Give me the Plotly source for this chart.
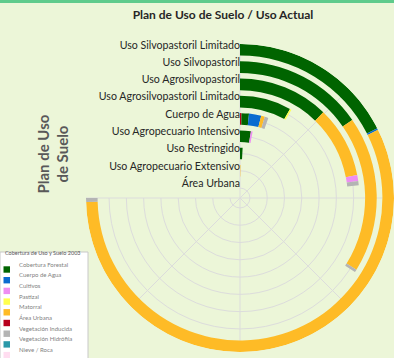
import plotly.graph_objects as go

# rings, outer -> inner
categories = [
    "Uso Silvopastoril Limitado", "Uso Silvopastoril", "Uso Agrosilvopastoril",
    "Uso Agrosilvopastoril Limitado", "Cuerpo de Agua", "Uso Agropecuario Intensivo",
    "Uso Restringido", "Uso Agropecuario Extensivo", "Área Urbana",
]

area_urbana = [0, 0, 0, 0, 1.0, 0, 0, 0, 0]
forestal    = [63.1, 55.2, 44.2, 29.3, 5.1, 9.3, 3.0, 0, 0]
agua        = [0.6, 0, 0, 0, 8.4, 0, 0, 0, 0]
pastizal    = [0, 0, 0, 0.9, 0, 0, 0, 0, 0]
matorral    = [204.8, 66.4, 34.7, 0, 2.5, 0, 0, 0.8, 0]
cultivos    = [0, 0, 2.9, 0, 0, 1.5, 0, 0, 0]
inducida    = [1.5, 1.2, 2.1, 0, 2.5, 0, 0, 0, 0]
hidrofila   = [0, 0, 0, 0, 0, 0, 0, 0, 0]
nieve       = [0, 0, 0, 0, 0, 0, 0, 0, 0]

legend_names = ["Cobertura Forestal", "Cuerpo de Agua", "Cultivos", "Pastizal", "Matorral",
                "Área Urbana", "Vegetación Inducida", "Vegetación Hidrófila", "Nieve / Roca"]

_GREEN = "#006400"
_BLUE  = "#0A6BD0"
_PINK  = "#EE8EF2"
_YELL  = "#FFFF4D"
_ORNG  = "#FEBB26"
_RED   = "#B8001E"
_GREY  = "#B4B4B4"
_TEAL  = "#2A98A8"
_LPNK  = "#FFDDF0"
BG     = "#ECF6D8"
TXT    = "#262626"

# stacking order along each arc
stack = [
    ("Área Urbana", area_urbana, _RED),
    ("Cobertura Forestal", forestal, _GREEN),
    ("Cuerpo de Agua", agua, _BLUE),
    ("Pastizal", pastizal, _YELL),
    ("Matorral", matorral, _ORNG),
    ("Cultivos", cultivos, _PINK),
    ("Vegetación Inducida", inducida, _GREY),
    ("Vegetación Hidrófila", hidrofila, _TEAL),
    ("Nieve / Roca", nieve, _LPNK),
]
legend_colors = [_GREEN, _BLUE, _PINK, _YELL, _ORNG, _RED, _GREY, _TEAL, _LPNK]

n = len(categories)
totals = [sum(s[1][i] for s in stack) for i in range(n)]
deg = 270.0 / max(totals)             # largest ring spans 3/4 of the circle
centers = [0.575 + (n - 1 - i) for i in range(n)]   # ring centre radius
thick = 0.672

fig = go.Figure()
start = [0.0] * n
for name, vals, color in stack:
    th, wd, rr, bb = [], [], [], []
    for i, v in enumerate(vals):
        if v <= 0:
            continue
        th.append((start[i] + v / 2) * deg)
        wd.append(v * deg)
        rr.append(thick)
        bb.append(centers[i] - thick / 2)
        start[i] += v
    if th:
        fig.add_trace(go.Barpolar(theta=th, width=wd, r=rr, base=bb, name=name,
                                  marker=dict(color=color, line=dict(width=0)),
                                  showlegend=False, hoverinfo="name"))

fig.add_trace(go.Scatterpolar(
    r=[c + 0.22 for c in centers], theta=[0] * n, mode="text", text=categories,
    textposition="middle left", textfont=dict(size=10.6, color=TXT, family="Lato"),
    cliponaxis=False, showlegend=False, hoverinfo="skip"))

W, H = 394, 358
R, CX, CY = 154, 240, 198
fig.update_layout(
    width=W, height=H, margin=dict(l=0, r=0, t=0, b=0),
    paper_bgcolor=BG, plot_bgcolor=BG, showlegend=False,
    font=dict(family="Lato", color=TXT),
    title=dict(text="<b>Plan de Uso de Suelo / Uso Actual</b>", x=223 / W, xanchor="center",
               y=1 - 15 / H, yanchor="middle", font=dict(size=12, color=TXT)),
    polar=dict(
        domain=dict(x=[(CX - R) / W, 1], y=[(H - CY - R) / H, (H - CY + R) / H]),
        sector=[-180, 90], bgcolor="rgba(0,0,0,0)", barmode="overlay",
        angularaxis=dict(rotation=90, direction="clockwise", tickmode="linear", dtick=45,
                         showticklabels=False, ticks="", showline=False,
                         gridcolor="#DCDCDC", gridwidth=1),
        radialaxis=dict(range=[0, 8.91], tickvals=centers, showticklabels=False, ticks="",
                        showline=False, gridcolor="#DCDCDC", gridwidth=1),
    ),
)

# top accent strip
fig.add_shape(type="rect", xref="paper", yref="paper", x0=0, x1=1, y0=1 - 3 / H, y1=1,
              fillcolor="#5FCB8C", line_width=0)

# axis title on the left
fig.add_annotation(text="<b>Plan de Uso<br>de Suelo</b>", textangle=-90, xref="paper", yref="paper",
                   x=32 / W, y=1 - 113 / H, showarrow=False,
                   font=dict(size=15, color="#595959"))

# legend box (drawn by hand, bottom-left, partly cut by the frame)
fig.add_shape(type="rect", xref="paper", yref="paper", x0=0, x1=88 / W, y0=-0.05, y1=1 - 252 / H,
              fillcolor="white", line=dict(color="#C8C8C8", width=1))
fig.add_annotation(text="Cobertura de Uso y Suelo 2003", xref="paper", yref="paper",
                   x=43 / W, y=1 - 258 / H, xanchor="center", showarrow=False,
                   font=dict(size=5.5, color="#595959"))
for k, (lab, col) in enumerate(zip(legend_names, legend_colors)):
    yc = 269.5 + 10.7 * k
    fig.add_shape(type="rect", xref="paper", yref="paper", x0=3.5 / W, x1=10 / W,
                  y0=1 - (yc + 3.2) / H, y1=1 - (yc - 3.2) / H, fillcolor=col, line_width=0)
    fig.add_annotation(text=lab, xref="paper", yref="paper", x=16.5 / W, y=1 - yc / H,
                       xanchor="left", showarrow=False, font=dict(size=6, color="#7F7F7F"))

fig.write_html("out.html", config={"displayModeBar": False},
               post_script="document.body.style.margin='0';")
